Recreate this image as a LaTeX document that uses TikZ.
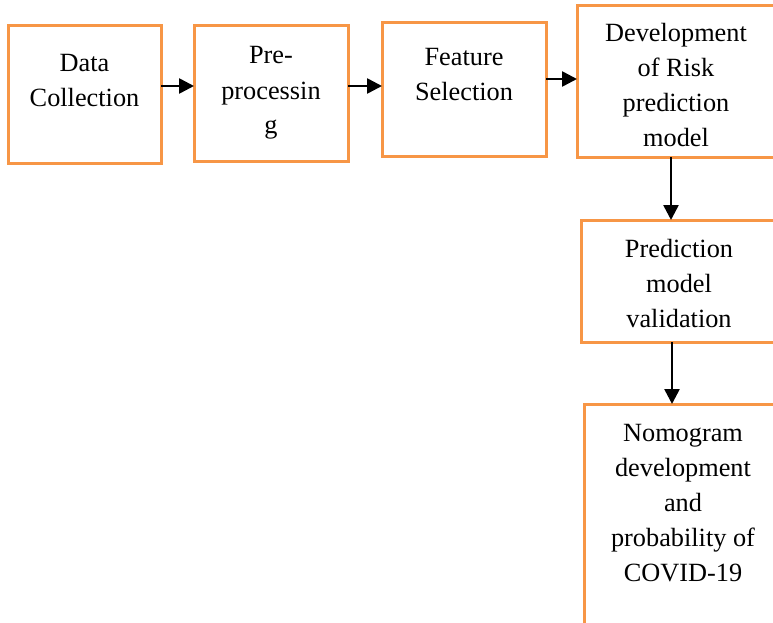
\documentclass[tikz,border=0pt]{standalone}
\usepackage{fontspec}
\setmainfont{Liberation Serif}
\usetikzlibrary{arrows.meta}
\definecolor{boxorange}{RGB}{247,150,70}
\tikzset{
  stage/.style={draw=boxorange, line width=3pt, inner sep=0pt, outer sep=0pt, anchor=north west},
  flow/.style={-{Triangle[length=15pt,width=15pt]}, line width=2.6pt}
}
% width, height, first baseline below top, text
\newcommand{\stagetext}[4]{\parbox[c][#2][t]{#1}{\centering\vspace*{\dimexpr#3-24.5pt\relax}\strut#4}}

\begin{document}
\begin{tikzpicture}[x=1pt,y=-1pt]
  \fontsize{26.3pt}{35pt}\selectfont
  \useasboundingbox (0,0) rectangle (773,623);
  \clip (0,0) rectangle (773,623);

  \node[stage] (collect) at (8,26)   {\stagetext{153pt}{137pt}{46pt}{Data\\Collection}};
  \node[stage] (prep)    at (194,26) {\stagetext{154pt}{135pt}{38pt}{Pre-\\processin\\g}};
  \node[stage] (select)  at (382,23) {\stagetext{164pt}{133pt}{43pt}{Feature\\Selection}};
  \node[stage] (model)   at (577,6)  {\stagetext{198pt}{151pt}{36pt}{Development\\of Risk\\prediction\\model}};
  \node[stage] (valid)   at (581,220) {\stagetext{196pt}{122pt}{37pt}{Prediction\\model\\validation}};
  \node[stage] (nomo)    at (584,404) {\stagetext{198pt}{256pt}{37pt}{Nomogram\\development\\and\\probability of\\COVID-19}};

  \draw[flow] (collect.east |- 0,86) -- (prep.west |- 0,86);
  \draw[flow] (prep.east |- 0,86) -- (select.west |- 0,86);
  \draw[flow] (select.east |- 0,79) -- (model.west |- 0,79);
  \draw[flow] (model.south -| 671,0) -- (valid.north -| 671,0);
  \draw[flow] (valid.south -| 672,0) -- (nomo.north -| 672,0);
\end{tikzpicture}
\end{document}
